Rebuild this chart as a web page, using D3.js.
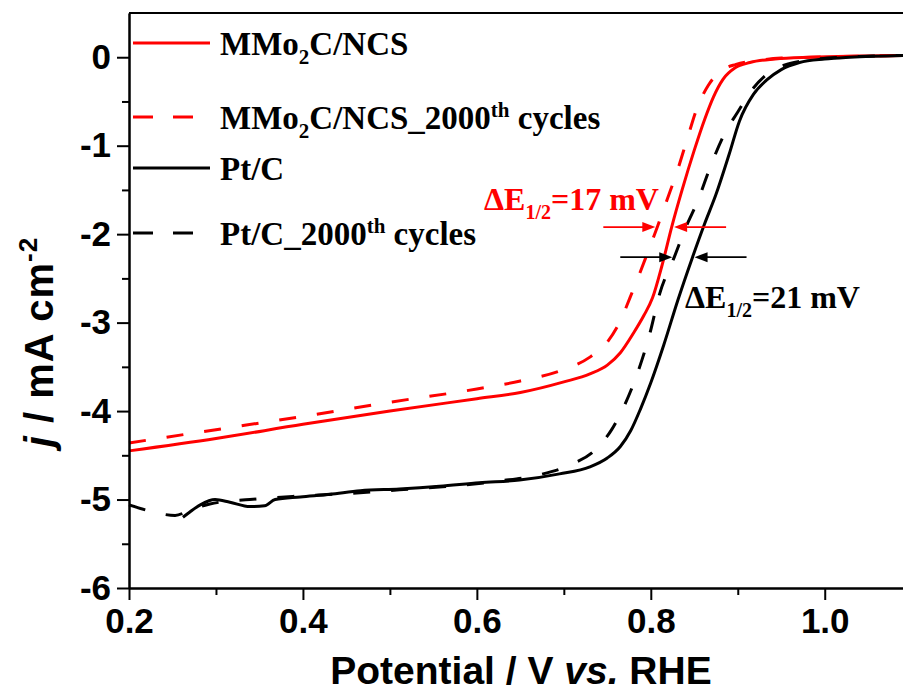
<!DOCTYPE html>
<html>
<head>
<meta charset="utf-8">
<script src="https://cdn.jsdelivr.net/npm/d3@7"></script>
<style>
  body { margin: 0; background: #fff; }
  svg { display: block; }
</style>
</head>
<body>
<svg id="chart" width="903" height="693"></svg>
<script>
// LSV polarization curves (ORR), current density vs potential
const potentialTicks = [0.2, 0.4, 0.6, 0.8, 1.0];
const potentialMinor = [0.3, 0.5, 0.7, 0.9];
const currentTicks = [0, -1, -2, -3, -4, -5, -6];
const currentMinor = [-0.5, -1.5, -2.5, -3.5, -4.5, -5.5];

// MMo2C/NCS, initial
const mmoV = [0.2, 0.3, 0.4, 0.5, 0.6, 0.65, 0.7, 0.73, 0.75, 0.765, 0.78, 0.792, 0.802, 0.813, 0.824, 0.836, 0.85, 0.862, 0.872, 0.883, 0.897, 0.914, 0.943, 0.983, 1.09];
const mmoJ = [-4.45, -4.31, -4.15, -4.0, -3.86, -3.79, -3.67, -3.58, -3.48, -3.34, -3.12, -2.92, -2.72, -2.35, -1.92, -1.50, -1.05, -0.70, -0.45, -0.25, -0.12, -0.06, -0.02, 0, 0.02];

// MMo2C/NCS after 2000 cycles
const mmoCycV = [0.2, 0.3, 0.4, 0.5, 0.6, 0.65, 0.7, 0.73, 0.75, 0.765, 0.776, 0.787, 0.7975, 0.8075, 0.818, 0.83, 0.842, 0.853, 0.866, 0.88, 0.898, 0.92, 0.95, 0.983, 1.09];
const mmoCycJ = [-4.36, -4.21, -4.06, -3.90, -3.75, -3.66, -3.53, -3.39, -3.22, -2.98, -2.72, -2.45, -2.18, -1.92, -1.63, -1.30, -0.92, -0.58, -0.32, -0.16, -0.08, -0.04, -0.01, 0, 0.02];

// Pt/C, initial
const ptV = [0.262, 0.27, 0.282, 0.299, 0.316, 0.339, 0.356, 0.368, 0.397, 0.431, 0.466, 0.511, 0.557, 0.603, 0.649, 0.695, 0.73, 0.75, 0.765, 0.777, 0.788, 0.8, 0.815, 0.831, 0.848, 0.862, 0.875, 0.89, 0.902, 0.918, 0.933, 0.95, 0.971, 1.0, 1.029, 1.09];
const ptJ = [-5.2, -5.14, -5.06, -5.0, -5.03, -5.08, -5.07, -5.0, -4.97, -4.94, -4.90, -4.88, -4.85, -4.81, -4.78, -4.71, -4.63, -4.53, -4.40, -4.22, -3.98, -3.68, -3.25, -2.75, -2.26, -1.88, -1.55, -1.10, -0.72, -0.42, -0.26, -0.14, -0.06, -0.02, 0, 0.02];

// Pt/C after 2000 cycles
const ptCycV = [0.2, 0.22, 0.236, 0.253, 0.27, 0.293, 0.339, 0.397, 0.454, 0.511, 0.569, 0.626, 0.672, 0.707, 0.736, 0.755, 0.77, 0.784, 0.799, 0.81, 0.827, 0.84, 0.855, 0.868, 0.884, 0.9, 0.917, 0.935, 0.96, 0.983, 1.02, 1.09];
const ptCycJ = [-5.06, -5.12, -5.16, -5.18, -5.12, -5.05, -5.0, -4.96, -4.93, -4.89, -4.85, -4.79, -4.72, -4.61, -4.44, -4.21, -3.93, -3.59, -3.12, -2.68, -2.26, -1.93, -1.60, -1.25, -0.88, -0.62, -0.36, -0.18, -0.07, -0.03, 0, 0.02];

// half-wave potentials (initial, after cycling) and the current level of the marker arrows
const halfWaveMMo = [0.8245, 0.8075];
const halfWavePt = [0.848, 0.827];
const arrowLevelMMo = -1.92;
const arrowLevelPt = -2.26;

const seriesNames = ["MMo2C/NCS", "MMo2C/NCS_2000th cycles", "Pt/C", "Pt/C_2000th cycles"];
const seriesColors = ["#ff0000", "#ff0000", "#000000", "#000000"];
const seriesDashed = [false, true, false, true];

const series = [
  { v: mmoV, j: mmoJ },
  { v: mmoCycV, j: mmoCycJ },
  { v: ptV, j: ptJ },
  { v: ptCycV, j: ptCycJ }
].map((s, i) => ({
  name: seriesNames[i], color: seriesColors[i], dashed: seriesDashed[i],
  points: s.v.map((v, k) => [v, s.j[k]])
}));

const plotLeft = 129, plotRight = 903, plotTop = 13, plotBottom = 588;
const svg = d3.select("#chart");
const x = d3.scaleLinear().domain([0.2, 1.09]).range([plotLeft, plotRight]);
const y = d3.scaleLinear().domain([-6, 0.5]).range([plotBottom, plotTop]);

const tickFont = "'Liberation Sans', Arial, sans-serif";
const serifFont = "'Liberation Serif', 'Times New Roman', serif";

// curves
const line = d3.line().x(d => x(d[0])).y(d => y(d[1])).curve(d3.curveMonotoneX);
const plot = svg.append("g");
plot.selectAll("path").data(series).join("path")
  .attr("d", d => line(d.points))
  .attr("fill", "none")
  .attr("stroke", d => d.color)
  .attr("stroke-width", 3)
  .attr("stroke-linejoin", "round")
  .attr("stroke-dasharray", d => d.dashed ? "17,21" : null);

// axes
function styleAxis(g) {
  g.selectAll(".domain").attr("stroke", "#000").attr("stroke-width", 2);
  g.selectAll(".tick line").attr("stroke", "#000").attr("stroke-width", 2);
  g.selectAll(".tick text").attr("fill", "#000")
    .style("font-family", tickFont).style("font-weight", "bold").style("font-size", "35px");
}
const xAxis = svg.append("g").attr("transform", `translate(0,${plotBottom})`)
  .call(d3.axisBottom(x).tickValues(potentialTicks).tickFormat(d3.format(".1f")).tickSize(12).tickPadding(8).tickSizeOuter(0));
styleAxis(xAxis);
const xMinor = svg.append("g").attr("transform", `translate(0,${plotBottom})`)
  .call(d3.axisBottom(x).tickValues(potentialMinor).tickFormat("").tickSize(7).tickSizeOuter(0));
styleAxis(xMinor);

const yAxis = svg.append("g").attr("transform", `translate(${plotLeft},0)`)
  .call(d3.axisLeft(y).tickValues(currentTicks).tickFormat(d => String(d)).tickSize(12).tickPadding(6).tickSizeOuter(0));
styleAxis(yAxis);
const yMinor = svg.append("g").attr("transform", `translate(${plotLeft},0)`)
  .call(d3.axisLeft(y).tickValues(currentMinor).tickFormat("").tickSize(7).tickSizeOuter(0));
styleAxis(yMinor);

// top frame
svg.append("line").attr("x1", plotLeft).attr("x2", plotRight).attr("y1", plotTop).attr("y2", plotTop)
  .attr("stroke", "#000").attr("stroke-width", 2);

// axis titles
svg.append("text")
  .attr("x", 521).attr("y", 684)
  .attr("text-anchor", "middle")
  .style("font-family", tickFont).style("font-weight", "bold").style("font-size", "39px")
  .call(t => {
    t.append("tspan").text("Potential / V ");
    t.append("tspan").style("font-style", "italic").text("vs.");
    t.append("tspan").text(" RHE");
  });

svg.append("text")
  .attr("transform", `translate(53,342) rotate(-90)`)
  .attr("text-anchor", "middle")
  .style("font-family", tickFont).style("font-weight", "bold").style("font-size", "40px")
  .style("letter-spacing", "1px")
  .call(t => {
    t.append("tspan").style("font-style", "italic").text("j");
    t.append("tspan").text(" / mA cm");
    t.append("tspan").attr("dy", -16).style("font-size", "26px").text("-2");
  });

// legend
const legendY = [43, 117, 168, 233];
const legend = svg.append("g");
series.forEach((s, i) => {
  legend.append("line")
    .attr("x1", 133).attr("x2", 210).attr("y1", legendY[i]).attr("y2", legendY[i])
    .attr("stroke", s.color).attr("stroke-width", 3)
    .attr("stroke-dasharray", s.dashed ? "20,20" : null);
  const t = legend.append("text")
    .attr("x", 220).attr("y", legendY[i] + 12)
    .style("font-family", serifFont).style("font-weight", "bold").style("font-size", "33px")
    .attr("fill", "#000");
  // rich text: subscript "2" in Mo2C, superscript "th"
  const m = s.name.match(/^(MMo)(2)(C\/NCS)(.*)$/);
  const addRest = (str) => {
    const p = str.match(/^(.*?2000)(th)(.*)$/);
    if (p) {
      t.append("tspan").text(p[1]);
      t.append("tspan").attr("dy", -12).style("font-size", "21px").text(p[2]);
      t.append("tspan").attr("dy", 12).text(p[3]);
    } else if (str) {
      t.append("tspan").text(str);
    }
  };
  if (m) {
    t.append("tspan").text(m[1]);
    t.append("tspan").attr("dy", 9).style("font-size", "21px").text(m[2]);
    t.append("tspan").attr("dy", -9).text(m[3]);
    addRest(m[4]);
  } else {
    addRest(s.name);
  }
});

// half-wave shift markers
const arrowLen = 54;
function arrow(xFrom, xTip, yPx, color) {
  const dir = Math.sign(xTip - xFrom);
  svg.append("line")
    .attr("x1", xFrom).attr("x2", xTip - dir * 10).attr("y1", yPx).attr("y2", yPx)
    .attr("stroke", color).attr("stroke-width", 1.6);
  svg.append("path")
    .attr("d", `M${xTip},${yPx} L${xTip - dir * 13},${yPx - 5} L${xTip - dir * 13},${yPx + 5} Z`)
    .attr("fill", color);
}
function shiftMarker(pair, level, color) {
  const yPx = y(level);
  const xHi = x(pair[0]), xLo = x(pair[1]);
  arrow(xLo - arrowLen, xLo - 2, yPx, color);
  arrow(xHi + arrowLen, xHi + 2, yPx, color);
}
shiftMarker(halfWaveMMo, arrowLevelMMo, "#ff0000");
shiftMarker(halfWavePt, arrowLevelPt, "#000000");

function deltaLabel(xPx, yPx, color, pair) {
  const mv = Math.round((pair[0] - pair[1]) * 1000);
  const t = svg.append("text").attr("x", xPx).attr("y", yPx).attr("fill", color)
    .style("font-family", serifFont).style("font-weight", "bold").style("font-size", "32px");
  t.append("tspan").text("ΔE");
  t.append("tspan").attr("dy", 9).style("font-size", "20px").text("1/2");
  t.append("tspan").attr("dy", -9).text(`=${mv} mV`);
}
deltaLabel(484, 210, "#ff0000", halfWaveMMo);
deltaLabel(685, 308, "#000000", halfWavePt);
</script>
</body>
</html>
